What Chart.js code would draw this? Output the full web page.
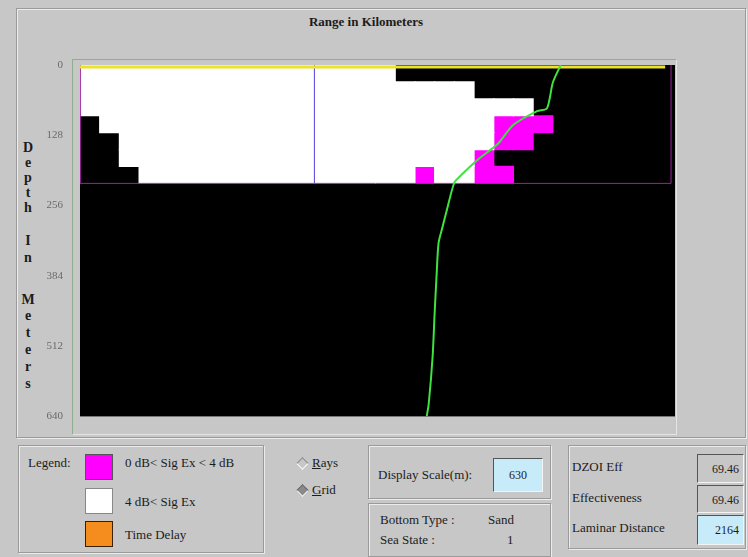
<!DOCTYPE html>
<html>
<head>
<meta charset="utf-8">
<script src="https://cdn.jsdelivr.net/npm/chart.js@4.4.0/dist/chart.umd.min.js"></script>
<style>
body{margin:0;width:748px;height:557px;background:#c7c7c7;font-family:"Liberation Serif",serif;color:#1c1c1c;position:relative;overflow:hidden}
.panel{position:absolute;border:1px solid #9a9a9a;box-shadow:inset 1px 1px 0 #ececec,1px 1px 0 #ececec}
.t{position:absolute;font-size:13px;line-height:16px;white-space:nowrap}
.sw{position:absolute;width:26px;height:24px;border:1px solid #555}
.box{position:absolute;border-top:1px solid #555;border-left:1px solid #555;border-right:1px solid #f4f4f4;border-bottom:1px solid #f4f4f4;font-size:12px;line-height:28px;text-align:right;padding-right:4px;box-sizing:border-box}
.dia{position:absolute;width:7px;height:7px;transform:rotate(45deg)}
.ax{position:absolute;left:20px;width:16px;text-align:center;font-weight:bold;font-size:14px;line-height:16px}
</style>
</head>
<body>
<div class="panel" style="left:16px;top:8px;width:728px;height:428px"></div>
<div class="t" style="left:0;top:14px;width:732px;text-align:center;font-weight:bold">Range in Kilometers</div>
<div style="position:absolute;left:72px;top:59px;width:603px;height:374px;border-left:1px solid #8fae8f;border-top:1px solid #8fae8f;border-right:1px solid #e4e4e4;border-bottom:1px solid #e4e4e4"></div>
<div id="ytitle"></div>
<canvas id="chart" width="748" height="440" style="position:absolute;left:0;top:0"></canvas>

<div class="panel" style="left:18px;top:445px;width:244px;height:106px"></div>
<div class="t" style="left:28px;top:455px">Legend:</div>
<div class="sw" style="left:85px;top:454px;background:#ff00ff"></div>
<div class="sw" style="left:85px;top:488px;background:#ffffff;border-color:#888"></div>
<div class="sw" style="left:85px;top:521px;background:#f58c1e;border-color:#3a2000"></div>
<div class="t" style="left:125px;top:455px">0 dB&lt; Sig Ex &lt; 4 dB</div>
<div class="t" style="left:125px;top:494px">4 dB&lt; Sig Ex</div>
<div class="t" style="left:125px;top:527px">Time Delay</div>

<div class="dia" style="left:298px;top:459px;border-left:1px solid #888;border-top:1px solid #888;border-right:1px solid #fff;border-bottom:1px solid #fff"></div>
<div class="t" style="left:312px;top:455px"><u>R</u>ays</div>
<div class="dia" style="left:298px;top:486px;background:#8a8a8a;border-left:1px solid #666;border-top:1px solid #666;border-right:1px solid #fff;border-bottom:1px solid #fff"></div>
<div class="t" style="left:312px;top:482px"><u>G</u>rid</div>

<div class="panel" style="left:368px;top:445px;width:181px;height:52px"></div>
<div class="t" style="left:378px;top:467px">Display Scale(m):</div>
<div class="box" style="left:493px;top:458px;width:50px;height:34px;line-height:32px;background:#c8ebfa;text-align:center;padding-right:0">630</div>
<div class="panel" style="left:368px;top:503px;width:181px;height:52px"></div>
<div class="t" style="left:380px;top:512px">Bottom Type :</div>
<div class="t" style="left:488px;top:512px">Sand</div>
<div class="t" style="left:380px;top:532px">Sea State :</div>
<div class="t" style="left:507px;top:532px">1</div>

<div class="panel" style="left:568px;top:445px;width:176px;height:102px"></div>
<div class="t" style="left:572px;top:459px">DZOI Eff</div>
<div class="t" style="left:572px;top:490px">Effectiveness</div>
<div class="t" style="left:572px;top:520px">Laminar Distance</div>
<div class="box" style="left:697px;top:454px;width:47px;height:29px">69.46</div>
<div class="box" style="left:697px;top:485px;width:47px;height:28px">69.46</div>
<div class="box" style="left:697px;top:515px;width:47px;height:30px;background:#c8ebfa">2164</div>

<script>
// grid cells, one string per depth row, one char per range column
// 0 = no excess (black), 1 = 4 dB< Sig Ex (white), 2 = 0 dB< Sig Ex < 4 dB (magenta)
const gridRows = [
  '111111111111111100000000000000',
  '111111111111111111110000000000',
  '111111111111111111111110000000',
  '011111111111111111111222000000',
  '001111111111111111111220000000',
  '001111111111111111112000000000',
  '000111111111111112112200000000'
];
const rowDepth = 30.8;
const gridRange = 30;
const depthTicks = [0, 128, 256, 384, 512, 640];

// sound speed profile trace
const profileRange = [24.4, 24.0, 23.7, 23.2, 22.0, 21.2, 20.2, 19.3, 19.0, 18.6, 18.4, 18.2, 18.1, 18.0, 17.9, 17.7, 17.6];
const profileDepth = [0, 32, 79, 84, 109, 144, 172, 202, 214, 267, 295, 324, 382, 452, 530, 617, 640];

const surfaceRange = [0, 29.7];
const surfaceDepth = [3.5, 3.5];
const markerRange = 11.9;

// y axis title, stacked letters
const titleLetters = [['D', 148], ['e', 163], ['p', 178], ['t', 193], ['h', 208], ['I', 241], ['n', 258],
  ['M', 300], ['e', 316], ['t', 333], ['e', 350], ['r', 367], ['s', 384]];
let yt = document.getElementById('ytitle');
for (let i = 0; i < titleLetters.length; i++) {
  let d = document.createElement('div');
  d.className = 'ax';
  d.textContent = titleLetters[i][0];
  d.style.top = (titleLetters[i][1] - 8) + 'px';
  yt.appendChild(d);
}

let whiteCells = [];
let magentaCells = [];
for (let r = 0; r < gridRows.length; r++) {
  for (let c = 0; c < gridRows[r].length; c++) {
    let cell = {x: c + 0.5, y: [r * rowDepth, (r + 1) * rowDepth]};
    if (gridRows[r][c] === '1') whiteCells.push(cell);
    if (gridRows[r][c] === '2') magentaCells.push(cell);
  }
}
const gridDepth = gridRows.length * rowDepth;

const plotBackground = {
  id: 'plotBackground',
  beforeDatasetsDraw(chart) {
    const {ctx, chartArea: a} = chart;
    ctx.save();
    ctx.fillStyle = '#000';
    ctx.fillRect(a.left, a.top, a.right - a.left, a.bottom - a.top);
    ctx.restore();
  }
};

// inflate a little so neighbouring cells leave no seams
let barStyle = {type: 'bar', grouped: false, barPercentage: 1, categoryPercentage: 1, borderWidth: 0, inflateAmount: 0.6, order: 4};

let data = {
  datasets: [
    Object.assign({label: '4 dB< Sig Ex', data: whiteCells, backgroundColor: '#ffffff'}, barStyle),
    Object.assign({label: '0 dB< Sig Ex < 4 dB', data: magentaCells, backgroundColor: '#ff00ff'}, barStyle),
    {
      type: 'line', label: 'grid', order: 3,
      data: [{x: 0, y: 0}, {x: 0, y: gridDepth}, {x: gridRange, y: gridDepth}, {x: gridRange, y: 0}],
      borderColor: '#a020a0', borderWidth: 1, pointRadius: 0, fill: false
    },
    {
      type: 'line', label: 'surface', order: 2,
      data: surfaceRange.map((v, i) => ({x: v, y: surfaceDepth[i]})),
      borderColor: '#ece22a', borderWidth: 3, pointRadius: 0, fill: false
    },
    {
      type: 'line', label: 'marker', order: 2,
      data: [{x: markerRange, y: 0}, {x: markerRange, y: gridDepth}],
      borderColor: '#6656e0', borderWidth: 1, pointRadius: 0, fill: false
    },
    {
      type: 'line', label: 'profile', order: 1,
      data: profileRange.map((v, i) => ({x: v, y: profileDepth[i]})),
      borderColor: '#3ee43e', borderWidth: 2, pointRadius: 0, fill: false, tension: 0.25
    }
  ]
};

let config = {
  type: 'bar',
  data,
  options: {
    responsive: false,
    animation: false,
    devicePixelRatio: 1,
    layout: {padding: {left: 0, right: 73, top: 65, bottom: 10}},
    plugins: {legend: {display: false}, tooltip: {enabled: false}},
    scales: {
      x: {
        type: 'linear', min: 0, max: 30.2, offset: false, display: false,
        ticks: {stepSize: 1, includeBounds: false}
      },
      y: {
        type: 'linear', reverse: true, min: 0, max: 640,
        grid: {display: false, drawTicks: false},
        border: {display: false},
        afterBuildTicks: s => { s.ticks = depthTicks.map(v => ({value: v})); },
        afterFit: s => { s.width = 80; },
        ticks: {padding: 17, color: '#6a6a6a', font: {family: 'Liberation Serif', size: 11}}
      }
    }
  },
  plugins: [plotBackground]
};

let myChart = new Chart(document.getElementById('chart'), config);
</script>
</body>
</html>
